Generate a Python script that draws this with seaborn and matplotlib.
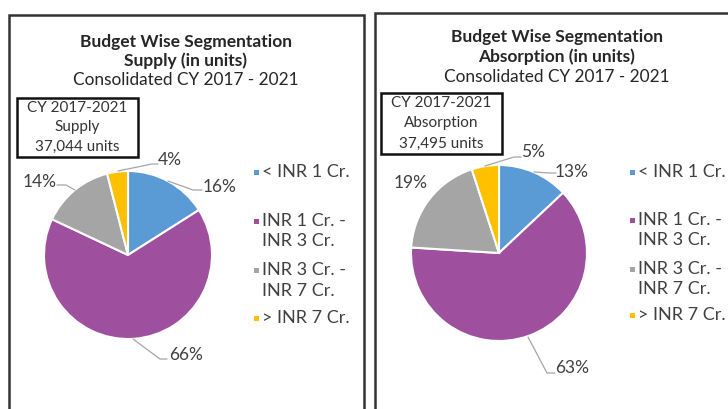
import matplotlib
matplotlib.use("Agg")
import matplotlib.pyplot as plt
from matplotlib.patches import Rectangle
from matplotlib.lines import Line2D
import seaborn as sns

# ---- data ----
segments = ["< INR 1 Cr.", "INR 1 Cr. -\nINR 3 Cr.", "INR 3 Cr. -\nINR 7 Cr.", "> INR 7 Cr."]
supply_share = [16, 66, 14, 4]
absorption_share = [13, 63, 19, 5]
supply_total = "37,044"
absorption_total = "37,495"
period = "Consolidated CY 2017 - 2021"
box_period = "CY 2017-2021"

sns.set_theme(style="white")
palette = sns.color_palette(["#5B9BD5", "#9E4F9E", "#A5A5A5", "#FFC000"])
plt.rcParams["font.family"] = ["Lato", "DejaVu Sans"]

W, H = 728, 409
fig = plt.figure(figsize=(W / 100, H / 100), dpi=100)
fig.patch.set_facecolor("white")
TXT = "#262626"


def fx(x):
    return x / W


def fy(y):
    return 1 - y / H


def ftext(x, y, s, **kw):
    kw.setdefault("ha", "center")
    kw.setdefault("va", "center")
    kw.setdefault("color", TXT)
    fig.text(fx(x), fy(y), s, **kw)


def fline(xs, ys, **kw):
    fig.add_artist(Line2D([fx(v) for v in xs], [fy(v) for v in ys],
                          transform=fig.transFigure, **kw))


def panel(cx, cy, r, values, title2, box_label, total, box_xy, title_x, title_y,
          legend_x, legend_rows, label_pos, leader_pts, frame_xs, frame_ys):
    # outer frame of the panel
    fline(frame_xs, frame_ys, color="#333333", lw=1.8, solid_joinstyle="miter")

    # titles
    ftext(title_x, title_y[0], "Budget Wise Segmentation", fontsize=12.5, fontweight="bold")
    ftext(title_x, title_y[1], title2, fontsize=12.5, fontweight="bold")
    ftext(title_x, title_y[2], period, fontsize=12.4)

    # total box
    bx0, by0, bx1, by1 = box_xy
    fig.add_artist(Rectangle((fx(bx0), fy(by1)), fx(bx1 - bx0), (by1 - by0) / H,
                             transform=fig.transFigure, fill=False,
                             edgecolor="#111111", lw=1.8))
    bcx = (bx0 + bx1) / 2
    step = (by1 - by0) / 3
    for i, s in enumerate([box_period, box_label, f"{total} units"]):
        ftext(bcx, by0 + step * (i + 0.5), s, fontsize=11, color="#333333")

    # pie
    ax = fig.add_axes([fx(cx - r), fy(cy + r), 2 * r / W, 2 * r / H])
    ax.pie(values, colors=palette, startangle=90, counterclock=False, radius=1,
           wedgeprops=dict(edgecolor="white", linewidth=1.5))
    ax.set_xlim(-1, 1)
    ax.set_ylim(-1, 1)
    ax.set_axis_off()

    # percentage labels with leader lines
    for v, (lx, ly), pts in zip(values, label_pos, leader_pts):
        ftext(lx, ly, f"{v}%", fontsize=12.5, color="#404040")
        if pts:
            fline(pts[0], pts[1], color="#A6A6A6", lw=0.9)

    # legend
    for color, lab, ry in zip(palette, segments, legend_rows):
        fig.add_artist(Rectangle((fx(legend_x - 2.5), fy(ry + 2.5)), 5 / W, 5 / H,
                                 transform=fig.transFigure, color=color, lw=0))
        for j, line in enumerate(lab.split("\n")):
            ftext(legend_x + 6, ry + j * 20.5, line, fontsize=13, ha="left",
                  color="#404040")


panel(cx=128, cy=255, r=84, values=supply_share, title2="Supply (in units)",
      box_label="Supply", total=supply_total, box_xy=(17, 98, 138, 157),
      title_x=186, title_y=(42, 61, 80),
      legend_x=256, legend_rows=[172, 221, 270, 318],
      label_pos=[(220, 187), (186, 355), (40, 182), (170, 160)],
      leader_pts=[([168, 193, 202], [181, 190, 190]),
                  ([133, 160, 167], [339, 359, 359]),
                  ([75, 66, 57], [190, 185, 185]),
                  ([118, 152, 158], [171, 164, 164])],
      frame_xs=[9, 9, 364, 364], frame_ys=[H, 15, 15, H])

panel(cx=499, cy=253, r=88, values=absorption_share, title2="Absorption (in units)",
      box_label="Absorption", total=absorption_total, box_xy=(381, 93, 502, 154),
      title_x=557, title_y=(37, 57, 77),
      legend_x=632, legend_rows=[172, 220, 269, 315],
      label_pos=[(572, 172), (572, 368), (411, 183), (533, 152)],
      leader_pts=[([534, 550, 556], [172, 173, 173]),
                  ([528, 547, 555], [337, 373, 373]),
                  None,
                  ([485, 514, 521], [166, 157, 157])],
      frame_xs=[375, 375, W], frame_ys=[H, 13, 13])

fig.savefig("out.png", dpi=100, facecolor="white")
